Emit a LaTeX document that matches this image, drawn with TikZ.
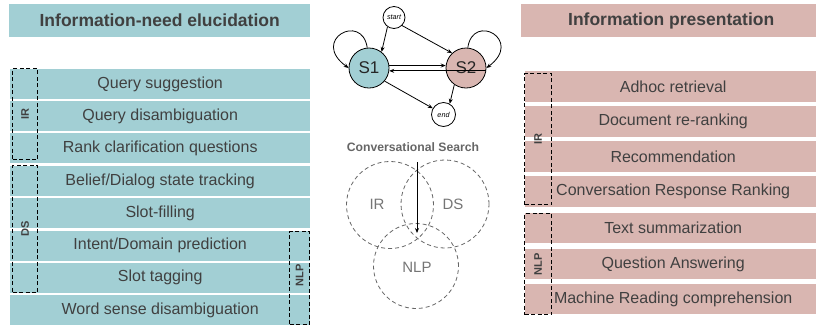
\documentclass[tikz,border=0pt]{standalone}
\usepackage{fontspec}
\setmainfont{Liberation Sans}
\usetikzlibrary{arrows.meta}
\definecolor{teal}{HTML}{A2CFD4}
\definecolor{rose}{HTML}{D9B6B1}
\definecolor{txt}{HTML}{404040}
\definecolor{venn}{HTML}{666666}
\tikzset{
  rowbox/.style={inner sep=0pt, minimum height=30bp, anchor=north west, text=txt, font=\fontsize{16bp}{18bp}\selectfont},
  lrow/.style={rowbox, fill=teal, minimum width=300bp},
  rrow/.style={rowbox, fill=rose, minimum width=291bp, minimum height=31bp},
  titlebox/.style={inner sep=0pt, minimum height=33bp, anchor=north west, text=txt, font=\fontsize{17.5bp}{20bp}\selectfont\bfseries},
  dashbox/.style={draw=black, line width=1bp, dash pattern=on 4bp off 2.5bp, inner sep=0pt, anchor=north west},
  grp/.style={rotate=90, text=txt, font=\fontsize{11bp}{13bp}\selectfont\bfseries, inner sep=0pt},
  state/.style={circle, draw=black, line width=0.8bp, inner sep=0pt, minimum size=40bp, text=black!85, font=\fontsize{17bp}{19bp}\selectfont},
  small/.style={circle, draw=black, line width=0.8bp, inner sep=0pt, fill=white, font=\fontsize{7.2bp}{8bp}\selectfont\itshape},
  arr/.style={line width=0.8bp, -{Stealth[length=5bp,width=4bp]}},
  vcirc/.style={circle, draw=venn, line width=0.8bp, dash pattern=on 4bp off 3bp, inner sep=0pt},
  vlabel/.style={text=venn!90, font=\fontsize{15bp}{17bp}\selectfont}
}
\begin{document}
\begin{tikzpicture}[x=1bp,y=-1bp]
\useasboundingbox (0,0) rectangle (816,327);
% titles
\node[titlebox, fill=teal, minimum width=301bp] (tl) at (9,4) {Information-need elucidation};
\node[titlebox, fill=rose, minimum width=295bp] (tr) at (521,4) {\hspace*{5bp}Information presentation};
% left rows
\node[lrow] (l1) at (10,69) {Query suggestion};
\node[lrow] (l2) at (10,101) {Query disambiguation};
\node[lrow] (l3) at (10,133) {Rank clarification questions};
\node[lrow] (l4) at (10,166) {Belief/Dialog state tracking};
\node[lrow] (l5) at (10,198) {Slot-filling};
\node[lrow] (l6) at (10,230.5) {Intent/Domain prediction};
\node[lrow] (l7) at (10,262.5) {Slot tagging};
\node[lrow] (l8) at (10,295) {Word sense disambiguation};
\node[dashbox, minimum width=25bp, minimum height=91bp] (lir) at (12,68) {};
\node[grp] (lirt) at (lir.center) {IR};
\node[dashbox, minimum width=25bp, minimum height=127bp] (lds) at (12,165) {};
\node[grp] (ldst) at (lds.center) {DS};
\node[dashbox, minimum width=20bp, minimum height=93bp] (lnlp) at (289,231) {};
\node[grp] (lnlpt) at ([yshift=2.5bp]lnlp.center) {NLP};
% right rows
\node[rrow] (r1) at (525,71) {\hspace*{5bp}Adhoc retrieval};
\node[rrow] (r2) at (525,106) {\hspace*{5bp}Document re-ranking};
\node[rrow] (r3) at (525,141) {\hspace*{5bp}Recommendation};
\node[rrow] (r4) at (525,176) {\hspace*{5bp}Conversation Response Ranking};
\node[rrow, minimum height=30bp] (r5) at (525,213) {\hspace*{5bp}Text summarization};
\node[rrow, minimum height=30bp] (r6) at (525,249) {\hspace*{5bp}Question Answering};
\node[rrow, minimum height=30bp] (r7) at (525,284) {\hspace*{5bp}Machine Reading comprehension};
\node[dashbox, minimum width=27bp, minimum height=131bp] (rir) at (524,73) {};
\node[grp] (rirt) at (rir.center) {IR};
\node[dashbox, minimum width=27bp, minimum height=101bp] (rnlp) at (524,213) {};
\node[grp] (rnlpt) at (rnlp.center) {NLP};
% state diagram
\node[state, fill=teal] (S1) at (369,68) {S1};
\node[state, fill=rose] (S2) at (466,68) {S2};
\node[small, minimum size=22bp] (start) at (394,17.5) {start};
\node[small, minimum size=24bp] (end) at (443.5,114.5) {end};
\draw[arr] (start.235) -- (S1.52);
\draw[arr] (start.-45) -- (S2.133);
\draw[arr] (S1.7) -- (S2.173);
\draw[arr] (S2.-8) -- (S1.-8);
\draw[arr] (S1.-40) -- (end.150);
\draw[arr] (S2.235) -- (end.60);
\draw[arr] (S1.95) .. controls (362,12) and (310,40) .. (S1.180);
\draw[arr] (S2.85) .. controls (473,12) and (524,40) .. (S2.0);
% venn
\node[text=venn, font=\fontsize{12.2bp}{14bp}\selectfont\bfseries] (cs) at (413,147) {Conversational Search};
\node[vcirc, minimum size=87bp] (vir) at (390,205) {};
\node[vcirc, minimum size=88bp] (vds) at (445,204) {};
\node[vcirc, minimum size=85bp] (vnlp) at (416,266) {};
\node[vlabel] (virt) at (377,204) {IR};
\node[vlabel] (vdst) at (453,204) {DS};
\node[vlabel] (vnlpt) at (417,267) {NLP};
\coordinate (va) at (417,162);
\coordinate (vb) at (417,233);
\draw[arr] (va) -- (vb);
\end{tikzpicture}
\end{document}
